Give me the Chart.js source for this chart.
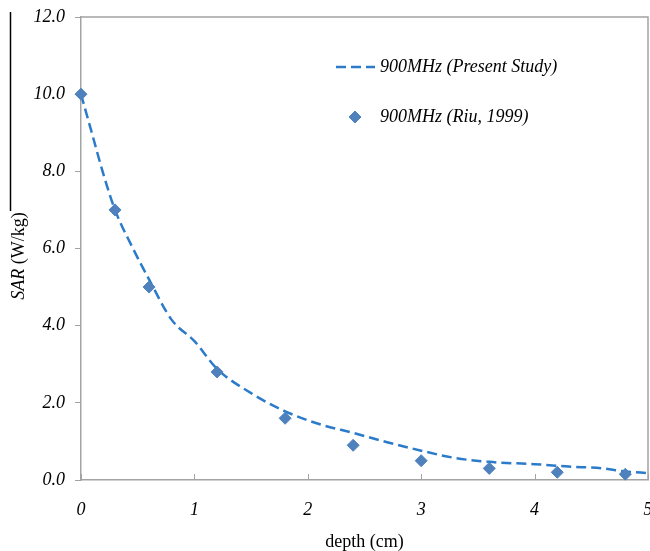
<!DOCTYPE html>
<html>
<head>
<meta charset="utf-8">
<script src="https://cdn.jsdelivr.net/npm/chart.js@4/dist/chart.umd.min.js"></script>
<style>
  html, body { margin: 0; padding: 0; background: #fff; }
  #clip { width: 650px; height: 551px; overflow: hidden; }
  #wrap { width: 655px; height: 551px; }
</style>
</head>
<body>
<div id="clip"><div id="wrap"><canvas id="sar"></canvas></div></div>
<script>
// present study curve (900MHz)
const depthModel = [0, 0.1, 0.2, 0.3, 0.45, 0.6, 0.8, 1.0, 1.2, 1.5, 1.8, 2.1, 2.4, 2.7, 3.0, 3.3, 3.6, 4.0, 4.3, 4.6, 4.8, 5.0];
const sarModel   = [10, 8.95, 7.9, 7.0, 6.05, 5.2, 4.15, 3.6, 2.88, 2.25, 1.78, 1.45, 1.22, 0.98, 0.76, 0.57, 0.47, 0.41, 0.35, 0.30, 0.22, 0.18];
// Riu, 1999 measurements
const depthRiu = [0, 0.3, 0.6, 1.2, 1.8, 2.4, 3.0, 3.6, 4.2, 4.8];
const sarRiu   = [10, 7.0, 5.0, 2.8, 1.6, 0.9, 0.5, 0.3, 0.2, 0.15];

const xTicks = [0, 1, 2, 3, 4, 5];
const yTicks = [0, 2, 4, 6, 8, 10, 12];
const labelModel = "900MHz (Present Study)";
const labelRiu = "900MHz (Riu, 1999)";

const SERIF = "'Liberation Serif', 'Times New Roman', serif";
const AXIS_GREY = "#a3a3a3";

function toPoints(xs, ys) {
    let pts = [];
    for (let i = 0; i < xs.length; i++) pts.push({x: xs[i], y: ys[i]});
    return pts;
}

// frame, inner x ticks, y title (mixed style) and legend
const decorations = {
    id: "decorations",
    afterDraw(chart) {
        const ctx = chart.ctx;
        const a = chart.chartArea;
        const xs = chart.scales.x;
        ctx.save();

        // top + right border of the plot
        ctx.strokeStyle = AXIS_GREY;
        ctx.lineWidth = 1.5;
        ctx.beginPath();
        ctx.moveTo(a.left, a.top);
        ctx.lineTo(a.right, a.top);
        ctx.lineTo(a.right, a.bottom);
        ctx.stroke();

        // x tick marks point into the plot
        ctx.lineWidth = 1;
        xTicks.forEach(v => {
            const px = Math.round(xs.getPixelForValue(v)) + 0.5;
            ctx.beginPath();
            ctx.moveTo(px, a.bottom);
            ctx.lineTo(px, a.bottom - 6);
            ctx.stroke();
        });

        // stray black rule on the far left of the source figure
        ctx.strokeStyle = "#000";
        ctx.lineWidth = 1.5;
        ctx.beginPath();
        ctx.moveTo(10.5, 12);
        ctx.lineTo(10.5, 211);
        ctx.stroke();

        // y title: italic "SAR" + regular " (W/kg)"
        ctx.fillStyle = "#000";
        ctx.textBaseline = "middle";
        ctx.textAlign = "left";
        const fI = "italic 18px " + SERIF;
        const fR = "18px " + SERIF;
        ctx.font = fI;
        const w1 = ctx.measureText("SAR").width;
        ctx.font = fR;
        const w2 = ctx.measureText(" (W/kg)").width;
        ctx.translate(19, 256 + (w1 + w2) / 2);
        ctx.rotate(-Math.PI / 2);
        ctx.font = fI;
        ctx.fillText("SAR", 0, 0);
        ctx.font = fR;
        ctx.fillText(" (W/kg)", w1, 0);
        ctx.setTransform(1, 0, 0, 1, 0, 0);

        // legend
        const dsLine = chart.data.datasets[1];
        const dsPts = chart.data.datasets[0];
        ctx.font = "italic 18px " + SERIF;
        ctx.strokeStyle = dsLine.borderColor;
        ctx.lineWidth = dsLine.borderWidth;
        ctx.setLineDash(dsLine.borderDash);
        ctx.beginPath();
        ctx.moveTo(336, 67);
        ctx.lineTo(375, 67);
        ctx.stroke();
        ctx.setLineDash([]);
        ctx.fillStyle = "#000";
        ctx.fillText(dsLine.label, 380, 67);

        ctx.fillStyle = dsPts.pointBackgroundColor;
        ctx.strokeStyle = dsPts.pointBorderColor;
        ctx.lineWidth = 1;
        Chart.helpers.drawPoint(ctx, {
            pointStyle: dsPts.pointStyle,
            radius: dsPts.pointRadius,
            borderWidth: 1
        }, 355, 117);
        ctx.fillStyle = "#000";
        ctx.fillText(dsPts.label, 380, 117);

        ctx.restore();
    }
};

let ctx = document.getElementById("sar").getContext("2d");
let chartSAR = new Chart(ctx, {
    type: "line",
    data: {
        datasets: [{
            type: "scatter",
            label: labelRiu,
            data: toPoints(depthRiu, sarRiu),
            showLine: false,
            pointStyle: "rectRot",
            pointRadius: 6,
            pointBackgroundColor: "#4f81bd",
            pointBorderColor: "#4f81bd",
            pointBorderWidth: 1,
            clip: false,
            order: 0
        }, {
            label: labelModel,
            data: toPoints(depthModel, sarModel),
            borderColor: "#2b7bca",
            borderWidth: 2.5,
            borderDash: [10, 5],
            pointRadius: 0,
            cubicInterpolationMode: "monotone",
            fill: false,
            order: 1
        }]
    },
    options: {
        responsive: true,
        maintainAspectRatio: false,
        animation: false,
        events: [],
        layout: { padding: { top: 17, right: 0, bottom: 0, left: 0 } },
        plugins: {
            legend: { display: false },
            tooltip: { enabled: false }
        },
        scales: {
            x: {
                type: "linear",
                min: 0,
                max: 5,
                afterBuildTicks: s => { s.ticks = xTicks.map(v => ({value: v})); },
                afterFit: s => { s.paddingRight = 0; s.height = 71; },
                grid: { drawOnChartArea: false, drawTicks: false },
                border: { display: true, color: AXIS_GREY, width: 1.5 },
                ticks: {
                    padding: 19,
                    color: "#000",
                    font: { family: SERIF, size: 18, style: "italic" },
                    callback: v => String(v)
                },
                title: {
                    display: true,
                    text: "depth (cm)",
                    color: "#000",
                    font: { family: SERIF, size: 18, lineHeight: 1 },
                    padding: { top: 0, bottom: 0 }
                }
            },
            y: {
                type: "linear",
                min: 0,
                max: 12,
                afterBuildTicks: s => { s.ticks = yTicks.map(v => ({value: v})); },
                afterFit: s => { s.width = 81; s.paddingTop = 0; },
                grid: { drawOnChartArea: false, drawTicks: true, tickLength: 6, color: AXIS_GREY },
                border: { display: true, color: AXIS_GREY, width: 1.5 },
                ticks: {
                    padding: 10,
                    color: "#000",
                    font: { family: SERIF, size: 18, style: "italic" },
                    callback: v => v.toFixed(1)
                }
            }
        }
    },
    plugins: [decorations]
});
</script>
</body>
</html>
